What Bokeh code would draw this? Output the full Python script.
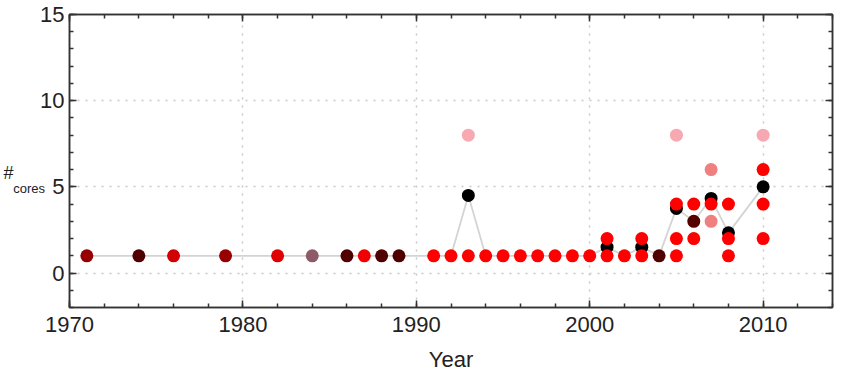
from bokeh.plotting import figure
from bokeh.models import (Range1d, SingleIntervalTicker, FixedTicker, LinearAxis,
                          CustomJSTickFormatter)
from bokeh.embed import file_html
from bokeh.resources import INLINE

# ---- data ----
RED = "#ff0000"
DARK = "#500000"
PINK = "#f7a8b0"
MIDPINK = "#f08080"

point_years = [1971, 1974, 1976, 1979, 1982, 1984, 1986, 1987, 1988, 1989,
               1991, 1992, 1993, 1993, 1994, 1995, 1996, 1997, 1998, 1999, 2000,
               2001, 2001, 2002, 2003, 2003, 2004,
               2005, 2005, 2005, 2005, 2006, 2006,
               2007, 2007, 2007, 2008, 2008, 2008,
               2010, 2010, 2010, 2010]
point_cores = [1, 1, 1, 1, 1, 1, 1, 1, 1, 1,
               1, 1, 1, 8, 1, 1, 1, 1, 1, 1, 1,
               1, 2, 1, 1, 2, 1,
               1, 2, 4, 8, 2, 4,
               3, 4, 6, 1, 2, 4,
               2, 4, 6, 8]
point_colors = ["#960000", DARK, "#d20000", "#980000", "#e00000", "#8e5a66", DARK, "#f00000", DARK, DARK,
                RED, RED, RED, PINK, RED, RED, RED, RED, RED, RED, RED,
                RED, RED, RED, RED, RED, DARK,
                RED, RED, RED, PINK, RED, RED,
                MIDPINK, RED, MIDPINK, RED, RED, RED,
                RED, RED, RED, PINK]

mean_years = [1971, 1974, 1976, 1979, 1982, 1984, 1986, 1987, 1988, 1989,
              1991, 1992, 1993, 1994, 1995, 1996, 1997, 1998, 1999, 2000,
              2001, 2002, 2003, 2004, 2005, 2006, 2007, 2008, 2010]
mean_cores = [1, 1, 1, 1, 1, 1, 1, 1, 1, 1,
              1, 1, 4.5, 1, 1, 1, 1, 1, 1, 1,
              1.5, 1, 1.5, 1, 3.75, 3, 4.33, 2.33, 5]

marker_years = [1993, 2001, 2003, 2005, 2006, 2007, 2008, 2010]
marker_cores = [4.5, 1.5, 1.5, 3.75, 3, 4.33, 2.33, 5]
marker_colors = ["#000000", "#000000", "#000000", "#000000", "#550000", "#000000", "#000000", "#000000"]

x_ticks_interval = 10
y_ticks_interval = 5

FONT = "Liberation Sans"
TXT = "#222222"
FRAME = "#333333"

p = figure(width=834, height=374, x_range=Range1d(1970, 2014), y_range=Range1d(-2, 15),
           output_backend="svg", toolbar_location=None,
           min_border_left=62, min_border_right=2, min_border_top=14, min_border_bottom=66)
p.background_fill_color = "white"
p.border_fill_color = "white"
p.outline_line_color = FRAME
p.outline_line_width = 1.5

bottom = p.below[0]
left = p.left[0]

xt = SingleIntervalTicker(interval=x_ticks_interval, num_minor_ticks=5)
yt = SingleIntervalTicker(interval=y_ticks_interval, num_minor_ticks=5)
bottom.ticker = xt
left.ticker = yt
p.xgrid.ticker = xt
p.ygrid.ticker = yt
for g in (p.xgrid, p.ygrid):
    g.grid_line_color = "#c8c8c8"
    g.grid_line_dash = "2 6"
    g.grid_line_width = 1.5

blank = CustomJSTickFormatter(code="return '';")
top = LinearAxis(ticker=xt, formatter=blank)
right = LinearAxis(ticker=yt, formatter=blank)
p.add_layout(top, "above")
p.add_layout(right, "right")

for ax in (bottom, left, top, right):
    ax.axis_line_color = FRAME
    ax.axis_line_width = 1.5
    ax.major_tick_line_color = FRAME
    ax.minor_tick_line_color = FRAME
    ax.major_tick_line_width = 1.5
    ax.minor_tick_line_width = 1.5
    ax.major_tick_in = 7
    ax.major_tick_out = 0
    ax.minor_tick_in = 4
    ax.minor_tick_out = 0
    ax.major_label_text_font = FONT
    ax.major_label_text_font_size = "22px"
    ax.major_label_text_color = TXT

for ax in (top, right):
    ax.major_label_standoff = 0

bottom.major_label_standoff = 9
bottom.major_label_text_line_height = 0.9
left.major_label_standoff = 5
bottom.axis_label = "Year"
bottom.axis_label_text_font = FONT
bottom.axis_label_text_font_size = "22px"
bottom.axis_label_text_font_style = "normal"
bottom.axis_label_text_color = TXT
bottom.axis_label_text_line_height = 0.9
bottom.axis_label_standoff = 12

# y-axis label: "#" with subscript "cores"
left.axis_label = "\n\n\ncores"
left.axis_label_text_font = FONT
left.axis_label_text_font_size = "13px"
left.axis_label_text_font_style = "normal"
left.axis_label_text_color = TXT
left.axis_label_standoff = -8
left.axis_label_orientation = "horizontal"

hash_axis = LinearAxis(ticker=FixedTicker(ticks=[]), formatter=blank, axis_label="\n#")
hash_axis.axis_line_color = None
hash_axis.major_tick_line_color = None
hash_axis.minor_tick_line_color = None
hash_axis.major_label_standoff = 0
hash_axis.axis_label_text_font = FONT
hash_axis.axis_label_text_font_size = "18px"
hash_axis.axis_label_text_font_style = "normal"
hash_axis.axis_label_text_color = TXT
hash_axis.axis_label_standoff = -3
hash_axis.axis_label_orientation = "horizontal"
p.add_layout(hash_axis, "left")

p.line(mean_years, mean_cores, line_color="#d4d4d4", line_width=1.8)
p.scatter(marker_years, marker_cores, size=13, fill_color=marker_colors, line_color=None)
p.scatter(point_years, point_cores, size=13, fill_color=point_colors, line_color=None)

open("out.html", "w").write(file_html(p, INLINE))
